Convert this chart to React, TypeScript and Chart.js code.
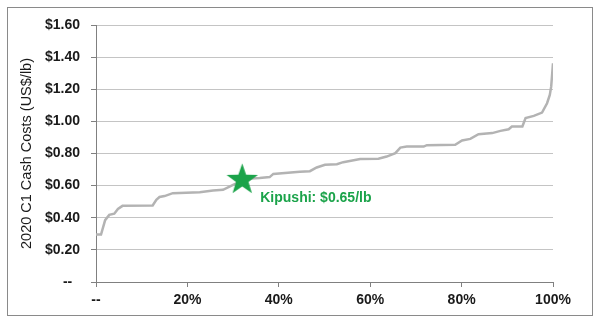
import React, { useEffect, useRef } from "react";
import { Chart, registerables } from "chart.js";

Chart.register(...registerables);

// Cumulative production share (%) and 2020 C1 cash cost (US$/lb)
const pctCapacity = [
  0, 1.1, 2.0, 2.9, 4.0, 4.8, 5.8, 12.4, 13.2, 13.9, 15.0, 16.8, 22.7, 25.6, 27.8,
  30.0, 32.0, 34.0, 35.8, 38.0, 38.8, 44.6, 46.8, 48.3, 50.1, 52.7, 54.1, 57.8,
  61.8, 63.6, 65.5, 66.6, 68.0, 71.7, 72.4, 78.6, 80.1, 81.9, 83.7, 86.7, 88.5,
  90.3, 91.0, 93.3, 94.0, 95.8, 97.6, 98.7, 99.3, 99.6, 100,
];
const cashCost = [
  0.295, 0.295, 0.385, 0.418, 0.425, 0.455, 0.474, 0.476, 0.512, 0.529, 0.535,
  0.553, 0.559, 0.57, 0.574, 0.605, 0.63, 0.645, 0.647, 0.653, 0.673, 0.686, 0.69,
  0.713, 0.73, 0.733, 0.746, 0.765, 0.767, 0.781, 0.802, 0.837, 0.843, 0.843,
  0.852, 0.854, 0.881, 0.891, 0.92, 0.927, 0.941, 0.951, 0.968, 0.968, 1.02,
  1.034, 1.055, 1.113, 1.165, 1.216, 1.362,
];
const kipushiPct = [32];
const kipushiCost = [0.645];
const kipushiLabel = "Kipushi: $0.65/lb";
const yTitle = "2020 C1 Cash Costs (US$/lb)";

const GREEN = "#1ba34a";
const FONT = "'Liberation Sans', Arial, sans-serif";

function makeStar(size: number, color: string): HTMLCanvasElement {
  const c = document.createElement("canvas");
  c.width = size;
  c.height = size;
  const ctx = c.getContext("2d")!;
  const cx = size / 2;
  const cy = size / 2 + 1.5;
  const R = size / 2;
  const r = R * 0.4;
  ctx.beginPath();
  for (let i = 0; i < 10; i++) {
    const ang = -Math.PI / 2 + (i * Math.PI) / 5;
    const rad = i % 2 === 0 ? R : r;
    const px = cx + rad * Math.cos(ang);
    const py = cy + rad * Math.sin(ang);
    if (i === 0) ctx.moveTo(px, py);
    else ctx.lineTo(px, py);
  }
  ctx.closePath();
  ctx.fillStyle = color;
  ctx.fill();
  return c;
}

export default function App() {
  const ref = useRef<HTMLCanvasElement>(null);

  useEffect(() => {
    if (!ref.current) return;
    document.body.style.margin = "0";
    document.body.style.overflow = "hidden";
    const star = makeStar(33, GREEN);
    const framePlugin = {
      id: "frame",
      beforeDraw(chart: any) {
        const ctx = chart.ctx;
        ctx.save();
        ctx.fillStyle = "#fff";
        ctx.fillRect(0, 0, chart.width, chart.height);
        ctx.fillStyle = "#8a8a8a";
        ctx.fillRect(7, 7, 586, 1);
        ctx.fillRect(7, 315, 586, 1);
        ctx.fillRect(7, 7, 1, 309);
        ctx.fillRect(592, 7, 1, 309);
        ctx.restore();
      },
    };
    const labelPlugin = {
      id: "kipushiLabel",
      afterDatasetsDraw(chart: any) {
        const meta = chart.getDatasetMeta(1);
        const el = meta.data[0];
        if (!el) return;
        const ctx = chart.ctx;
        ctx.save();
        ctx.font = `bold 14px ${FONT}`;
        ctx.fillStyle = GREEN;
        ctx.textAlign = "left";
        ctx.textBaseline = "middle";
        ctx.fillText(kipushiLabel, el.x + 18, el.y + 20);
        ctx.restore();
      },
    };
    const chart = new Chart(ref.current, {
      type: "line",
      data: {
        datasets: [
          {
            label: "Cost curve",
            data: pctCapacity.map((x, i) => ({ x, y: cashCost[i] })),
            borderColor: "#b3b3b3",
            borderWidth: 2.5,
            pointRadius: 0,
            tension: 0,
            fill: false,
            order: 2,
          },
          {
            label: "Kipushi",
            type: "scatter",
            data: kipushiPct.map((x, i) => ({ x, y: kipushiCost[i] })),
            pointStyle: star as any,
            pointRadius: 16,
            order: 1,
          } as any,
        ],
      },
      options: {
        responsive: false,
        animation: false,
        layout: { padding: { top: 25, right: 47, left: 8, bottom: 7 } },
        plugins: {
          legend: { display: false },
          tooltip: { enabled: false },
        },
        scales: {
          x: {
            type: "linear",
            min: 0,
            max: 100,
            afterFit: (s: any) => {
              s.height = 33;
            },
            border: { color: "#808080", width: 1 },
            grid: {
              drawOnChartArea: false,
              drawTicks: true,
              tickLength: 5,
              color: "#808080",
            },
            ticks: {
              stepSize: 20,
              padding: 5,
              color: "#1a1a1a",
              font: { family: FONT, size: 14, weight: "bold" },
              maxRotation: 0,
              callback: (v: any) => (Number(v) === 0 ? "--" : `${v}%`),
            },
          },
          y: {
            min: 0,
            max: 1.6,
            afterFit: (s: any) => {
              s.width = 88;
            },
            border: { color: "#808080", width: 1 },
            grid: {
              color: "#c4c4c4",
              tickColor: "#808080",
              drawTicks: true,
              tickLength: 5,
            },
            ticks: {
              stepSize: 0.2,
              padding: 11,
              color: "#1a1a1a",
              font: { family: FONT, size: 14, weight: "bold" },
              callback: (v: any) =>
                Number(v) === 0 ? "--  " : `$${Number(v).toFixed(2)}`,
            },
            title: {
              display: true,
              text: yTitle,
              color: "#1a1a1a",
              font: { family: FONT, size: 14.5, weight: "normal" },
              padding: { top: 10, bottom: 0 },
            },
          },
        },
      },
      plugins: [framePlugin, labelPlugin],
    });
    return () => chart.destroy();
  }, []);

  return (
    <canvas
      ref={ref}
      width={600}
      height={322}
      style={{ display: "block" }}
    />
  );
}
